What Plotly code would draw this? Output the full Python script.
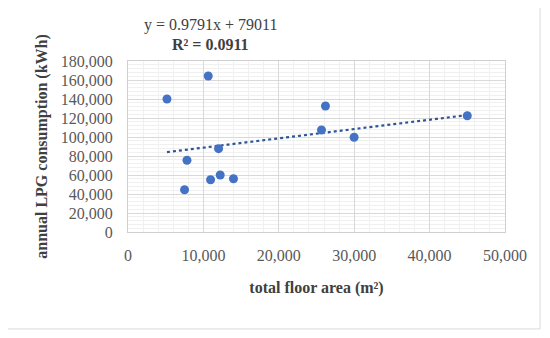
import plotly.graph_objects as go

floor_area = [5170, 10640, 7820, 12010, 7500, 10950, 12230, 13990, 26190, 25660, 29990, 45000]
lpg_kwh = [140000, 164200, 75500, 87700, 44500, 55000, 60000, 56100, 132600, 107400, 99700, 122400]
slope = 0.9791
intercept = 79011
eq_text = "y = 0.9791x + 79011"
r2_text = "<b>R² = 0.0911</b>"

FONT = "Liberation Serif"
x0, x1 = min(floor_area), max(floor_area)

fig = go.Figure()
fig.add_trace(go.Scatter(
    x=[x0, x1], y=[slope * x0 + intercept, slope * x1 + intercept],
    mode="lines", line=dict(color="#2F5597", width=2.2, dash="dot"),
    hoverinfo="skip", showlegend=False))
fig.add_trace(go.Scatter(
    x=floor_area, y=lpg_kwh, mode="markers",
    marker=dict(color="#4472C4", size=9), showlegend=False))

axis_common = dict(
    showline=True, linecolor="#d0d0d0", linewidth=1, mirror=True,
    gridcolor="#d9d9d9", gridwidth=1, zeroline=False, ticks="",
    tickfont=dict(family=FONT, size=16, color="#595959"),
    tickformat=",", automargin=False,
)
fig.update_xaxes(range=[0, 50000], dtick=10000, ticklabelstandoff=9,
                 minor=dict(dtick=2000, showgrid=True, gridcolor="#f0f0f0"),
                 title=dict(text="<b>total floor area (m²)</b>", standoff=18,
                            font=dict(family=FONT, size=16, color="#404040")),
                 **axis_common)
fig.update_yaxes(range=[0, 180000], dtick=20000, ticklabelstandoff=11,
                 minor=dict(dtick=4000, showgrid=True, gridcolor="#f0f0f0"),
                 title=dict(text="<b>annual LPG consumption (kWh)</b>", standoff=9,
                            font=dict(family=FONT, size=16, color="#404040")),
                 **axis_common)

fig.add_annotation(x=0.22, y=1.211, xref="paper", yref="paper", text=eq_text,
                   xanchor="center", yanchor="middle",
                   showarrow=False, font=dict(family=FONT, size=16, color="#404040"))
fig.add_annotation(x=0.22, y=1.099, xref="paper", yref="paper", text=r2_text,
                   xanchor="center", yanchor="middle",
                   showarrow=False, font=dict(family=FONT, size=16, color="#404040"))

fig.add_shape(type="rect", xref="paper", yref="paper",
              x0=-0.321, x1=1.093, y0=-0.567, y1=1.319,
              line=dict(color="#d9d9d9", width=1), layer="below")

fig.update_layout(
    width=542, height=330,
    margin=dict(l=120, r=45, t=53, b=106),
    plot_bgcolor="white", paper_bgcolor="white",
    font=dict(family=FONT),
)
fig.write_html("out.html")
